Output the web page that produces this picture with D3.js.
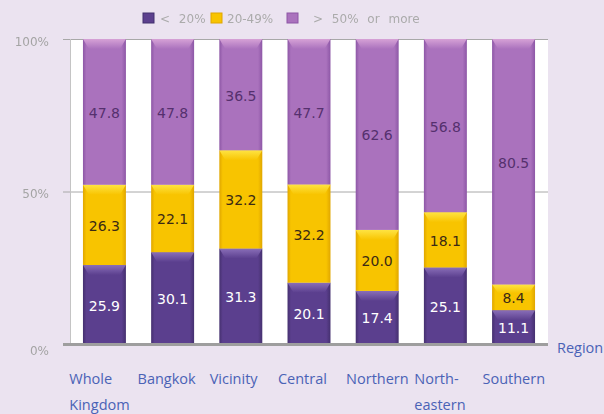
<!DOCTYPE html>
<html>
<head>
<meta charset="utf-8">
<script src="https://cdn.jsdelivr.net/npm/d3@7"></script>
<style>
  html, body { margin: 0; padding: 0; background: #ebe3f0; }
  svg { display: block; }
</style>
</head>
<body>
<svg id="chart" width="604" height="414"></svg>
<script>
// Household share by region, stacked to 100%
const regions = ["Whole Kingdom", "Bangkok", "Vicinity", "Central", "Northern", "North-eastern", "Southern"];
const regionLines = [["Whole", "Kingdom"], ["Bangkok"], ["Vicinity"], ["Central"], ["Northern"], ["North-", "eastern"], ["Southern"]];
const seriesNames = ["< 20%", "20-49%", "> 50% or more"];
const under20 = [25.9, 30.1, 31.3, 20.1, 17.4, 25.1, 11.1];
const from20to49 = [26.3, 22.1, 32.2, 32.2, 20.0, 18.1, 8.4];
const over50 = [47.8, 47.8, 36.5, 47.7, 62.6, 56.8, 80.5];
const yTicks = [0, 50, 100];
const yTickLabels = ["0%", "50%", "100%"];
const axisTitle = "Region";

const palette = [
  { base: "#5b3f8e", edge: "#45306f", top: "#8f74bd", text: "#ffffff" },
  { base: "#f8c400", edge: "#e0a600", top: "#ffe74a", text: "#3b2a14" },
  { base: "#aa72bd", edge: "#8d57a6", top: "#dba7d9", text: "#55306e" }
];

const svg = d3.select("#chart");
const M = { left: 70, right: 548, top: 39, bottom: 344 };

const x = d3.scaleBand().domain(regions).range([M.left, M.right]).paddingInner(0.37).paddingOuter(0.19);
const y = d3.scaleLinear().domain([0, 100]).range([M.bottom, M.top]);

const rows = regions.map((r, i) => ({ region: r, s0: under20[i], s1: from20to49[i], s2: over50[i] }));
const stack = d3.stack().keys(["s0", "s1", "s2"]);
const layers = stack(rows);

// gradients for the bevelled bars
const defs = svg.append("defs");
palette.forEach((p, i) => {
  const g = defs.append("linearGradient").attr("id", "bar" + i).attr("x1", 0).attr("x2", 1).attr("y1", 0).attr("y2", 0);
  g.append("stop").attr("offset", 0).attr("stop-color", p.edge);
  g.append("stop").attr("offset", 0.08).attr("stop-color", p.base);
  g.append("stop").attr("offset", 0.9).attr("stop-color", p.base);
  g.append("stop").attr("offset", 1).attr("stop-color", p.edge);
  const t = defs.append("linearGradient").attr("id", "cap" + i).attr("x1", 0).attr("x2", 0).attr("y1", 0).attr("y2", 1);
  t.append("stop").attr("offset", 0).attr("stop-color", p.top);
  t.append("stop").attr("offset", 1).attr("stop-color", p.base);
});
const blur = defs.append("filter").attr("id", "soft");
blur.append("feGaussianBlur").attr("stdDeviation", 0.45);

// plot background
svg.append("rect").attr("x", M.left).attr("y", M.top)
  .attr("width", M.right - M.left).attr("height", M.bottom - M.top).attr("fill", "#ffffff");

// gridlines and ticks
svg.append("g").selectAll("line").data(yTicks.filter(d => d > 0)).join("line")
  .attr("x1", M.left - 7).attr("x2", M.right)
  .attr("y1", d => y(d) + 0.5).attr("y2", d => y(d) + 0.5)
  .attr("stroke", "#a8a8a8").attr("stroke-width", 1);
svg.append("line").attr("x1", M.left + 0.5).attr("x2", M.left + 0.5)
  .attr("y1", M.top).attr("y2", M.bottom).attr("stroke", "#c4c4c4");

// bars
const bw = x.bandwidth();
layers.forEach((layer, li) => {
  const g = svg.append("g");
  layer.forEach((d, i) => {
    const x0 = x(regions[i]);
    const yt = y(d[1]), yb = y(d[0]);
    g.append("rect").attr("x", x0).attr("y", yt).attr("width", bw).attr("height", yb - yt)
      .attr("fill", `url(#bar${li})`);
    const capH = Math.min(10, (yb - yt) / 3);
    const inset = 6;
    g.append("path")
      .attr("d", `M${x0},${yt} L${x0 + bw},${yt} L${x0 + bw - inset},${yt + capH} L${x0 + inset},${yt + capH} Z`)
      .attr("fill", `url(#cap${li})`).attr("opacity", 0.9);
  });
});

// value labels
const valueSeries = [under20, from20to49, over50];
layers.forEach((layer, li) => {
  svg.append("g").selectAll("text").data(layer).join("text")
    .attr("x", (d, i) => x(regions[i]) + bw / 2)
    .attr("y", d => (y(d[0]) + y(d[1])) / 2 + 2)
    .attr("text-anchor", "middle").attr("dominant-baseline", "middle")
    .attr("font-family", "DejaVu Sans, Verdana, sans-serif").attr("font-size", 14)
    .attr("fill", palette[li].text)
    .text((d, i) => valueSeries[li][i].toFixed(1));
});

// baseline
svg.append("line").attr("x1", M.left - 7).attr("x2", M.right)
  .attr("y1", M.bottom + 0.5).attr("y2", M.bottom + 0.5)
  .attr("stroke", "#9e9e9e").attr("stroke-width", 3);

// y tick labels
svg.append("g").attr("filter", "url(#soft)").selectAll("text").data(yTicks).join("text")
  .attr("x", 49).attr("y", d => y(d) + (d === 0 ? 7 : 3))
  .attr("text-anchor", "end").attr("dominant-baseline", "middle")
  .attr("font-family", "DejaVu Sans, sans-serif").attr("font-size", 12)
  .attr("fill", "#a4a4a4")
  .text((d, i) => yTickLabels[i]);

// category labels, left-aligned at the start of each band
const catG = svg.append("g").attr("font-family", "Open Sans, sans-serif").attr("font-size", 14.5).attr("fill", "#4a62b6");
regionLines.forEach((lines, i) => {
  const band0 = x(regions[i]) - x.step() * x.paddingInner() / 2;
  const t = catG.append("text").attr("x", band0);
  lines.forEach((ln, j) => t.append("tspan").attr("x", band0 + (i > 1 ? 3 : -1)).attr("y", 384 + j * 26).text(ln));
});
catG.append("text").attr("x", 557).attr("y", 353).text(axisTitle);

// legend
const legend = svg.append("g").attr("filter", "url(#soft)");
const legX = [143, 211, 287];
const legTextX = [160, 227, 313];
seriesNames.forEach((name, i) => {
  legend.append("rect").attr("x", legX[i]).attr("y", 13).attr("width", 11).attr("height", 10)
    .attr("fill", palette[i].base).attr("stroke", palette[i].edge);
  legend.append("text").attr("x", legTextX[i]).attr("y", 19)
    .attr("dominant-baseline", "middle")
    .attr("font-family", "DejaVu Sans, sans-serif").attr("font-size", 12)
    .attr("fill", "#ababab").attr("word-spacing", 5).text(name);
});
</script>
</body>
</html>
